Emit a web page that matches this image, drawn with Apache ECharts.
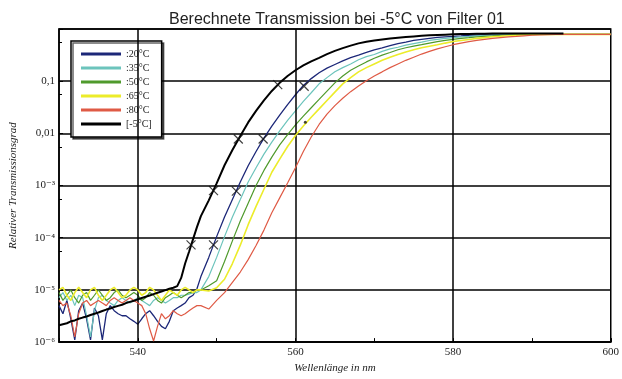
<!DOCTYPE html>
<html>
<head>
<meta charset="utf-8">
<script src="https://cdn.jsdelivr.net/npm/echarts@6/dist/echarts.min.js"></script>
<style>
  html, body { margin: 0; padding: 0; background: #fff; }
  #chart { width: 622px; height: 379px; }
</style>
</head>
<body>
<div id="chart"></div>
<script>
// wavelength grid in nm (0.5 nm steps in the noisy floor, 1 nm after)
const wavelengths = [
  530, 530.5, 531, 531.5, 532, 532.5, 533, 533.5, 534, 534.5, 535, 535.5, 536, 536.5,
  537, 537.5, 538, 538.5, 539, 539.5, 540, 540.5, 541, 541.5, 542, 542.5, 543, 543.5,
  544, 544.5, 545, 545.5, 546, 546.5, 547, 547.5, 548,
  549, 550, 551, 552, 553, 554, 555, 556, 557, 558, 559, 560, 561, 562, 563, 564, 565,
  566, 567, 568, 569, 570, 571, 572, 573, 574, 575, 576, 577, 578, 579, 580, 581, 582,
  583, 584, 585, 586, 587, 588, 589, 590, 591, 592, 593, 594, 595, 596, 597, 598, 599, 600
];

const t20 = [
  5.0e-6, 3.5e-6, 6.3e-6, 2.8e-6, 1.1e-6, 4.0e-6, 5.6e-6, 2.8e-6, 1.1e-6, 4.5e-6, 3.2e-6, 1.1e-6,
  3.5e-6, 5.0e-6, 4.0e-6, 3.5e-6, 3.2e-6, 3.2e-6, 2.8e-6, 2.5e-6, 2.2e-6, 2.8e-6, 3.5e-6, 4.0e-6,
  3.2e-6, 2.5e-6, 2.0e-6, 1.8e-6, 2.5e-6, 4.0e-6, 4.5e-6, 5.0e-6, 5.6e-6, 7.1e-6, 7.9e-6, 1.05e-5, 1.8e-5,
  4.2e-5, 1.05e-4, 2.5e-4, 5.4e-4, 1.17e-3, 2.4e-3, 4.5e-3, 8.1e-3, 0.0138, 0.0224, 0.0355, 0.055,
  0.083, 0.112, 0.145, 0.178, 0.209, 0.245, 0.282, 0.316, 0.355, 0.4, 0.437, 0.48, 0.525, 0.562,
  0.603, 0.631, 0.661, 0.692, 0.708, 0.724, 0.741, 0.759, 0.767, 0.776, 0.785,
  0.79, 0.79, 0.79, 0.79, 0.79, 0.79, 0.79, 0.79, 0.79, 0.79, 0.79, 0.79, 0.79, 0.79, 0.79
];

const t35 = [
  7.1e-6, 8.9e-6, 6.3e-6, 7.9e-6, 5.0e-6, 7.9e-6, 7.1e-6, 3.2e-6, 1.26e-6, 4.0e-6, 7.1e-6, 7.9e-6,
  6.3e-6, 5.6e-6, 5.0e-6, 6.3e-6, 7.1e-6, 6.3e-6, 5.6e-6, 6.3e-6, 7.1e-6, 6.3e-6, 5.6e-6, 5.0e-6,
  6.3e-6, 7.1e-6, 6.3e-6, 5.6e-6, 6.3e-6, 7.1e-6, 7.1e-6, 7.9e-6, 7.9e-6, 8.3e-6, 8.9e-6, 8.9e-6, 1.0e-5,
  1.8e-5, 4.2e-5, 1.05e-4, 2.5e-4, 5.4e-4, 1.17e-3, 2.2e-3, 4.0e-3, 6.8e-3, 0.0112, 0.0178, 0.0269,
  0.041, 0.06, 0.089, 0.117, 0.151, 0.182, 0.214, 0.257, 0.295, 0.324, 0.372, 0.417, 0.447, 0.49,
  0.525, 0.562, 0.603, 0.631, 0.661, 0.684, 0.708, 0.724, 0.741, 0.759, 0.767, 0.776, 0.785,
  0.79, 0.79, 0.79, 0.79, 0.79, 0.79, 0.79, 0.79, 0.79, 0.79, 0.79, 0.79, 0.79
];

const t50 = [
  8.9e-6, 6.3e-6, 7.9e-6, 1.0e-5, 7.1e-6, 5.6e-6, 7.9e-6, 8.9e-6, 6.3e-6, 7.9e-6, 1.0e-5, 7.9e-6,
  6.3e-6, 7.1e-6, 8.9e-6, 1.0e-5, 7.9e-6, 7.1e-6, 7.9e-6, 8.9e-6, 7.9e-6, 6.3e-6, 7.1e-6, 8.9e-6,
  7.9e-6, 6.3e-6, 5.6e-6, 7.1e-6, 7.9e-6, 8.9e-6, 7.9e-6, 7.1e-6, 7.9e-6, 8.9e-6, 8.9e-6, 1.0e-5, 1.0e-5,
  1.2e-5, 1.5e-5, 3.5e-5, 8.7e-5, 2.1e-4, 4.6e-4, 1.0e-3, 1.95e-3, 3.5e-3, 6.0e-3, 9.5e-3, 0.0145,
  0.0214, 0.031, 0.0447, 0.0646, 0.093, 0.126, 0.162, 0.195, 0.234, 0.275, 0.316, 0.355, 0.4, 0.437,
  0.468, 0.5, 0.537, 0.575, 0.603, 0.631, 0.661, 0.684, 0.708, 0.724, 0.741, 0.759, 0.767, 0.776, 0.785,
  0.79, 0.79, 0.79, 0.79, 0.79, 0.79, 0.79, 0.79, 0.79, 0.79, 0.79
];

const t65 = [
  1.0e-5, 1.12e-5, 7.9e-6, 6.3e-6, 8.9e-6, 1.12e-5, 8.9e-6, 7.1e-6, 1.0e-5, 1.12e-5, 7.9e-6, 6.3e-6,
  7.9e-6, 1.0e-5, 1.12e-5, 8.9e-6, 7.1e-6, 7.9e-6, 1.0e-5, 1.12e-5, 1.0e-5, 7.9e-6, 8.9e-6, 1.12e-5,
  1.0e-5, 7.9e-6, 6.3e-6, 7.9e-6, 1.0e-5, 8.9e-6, 7.9e-6, 1.0e-5, 1.12e-5, 1.0e-5, 8.9e-6, 1.0e-5, 1.0e-5,
  9.5e-6, 1.1e-5, 1.6e-5, 3.2e-5, 7.2e-5, 1.78e-4, 4.0e-4, 8.5e-4, 1.8e-3, 3.2e-3, 5.6e-3, 9.1e-3,
  0.0138, 0.0204, 0.0295, 0.0427, 0.0617, 0.089, 0.117, 0.151, 0.182, 0.214, 0.251, 0.288, 0.324,
  0.363, 0.4, 0.437, 0.468, 0.5, 0.537, 0.575, 0.603, 0.631, 0.661, 0.684, 0.708, 0.724, 0.741, 0.759,
  0.767, 0.776, 0.785, 0.79, 0.79, 0.79, 0.79, 0.79, 0.79, 0.79, 0.79, 0.79
];

const t80 = [
  6.3e-6, 5.0e-6, 5.6e-6, 3.2e-6, 1.26e-6, 3.5e-6, 5.6e-6, 6.3e-6, 5.0e-6, 5.6e-6, 6.3e-6, 5.6e-6,
  5.0e-6, 6.3e-6, 7.1e-6, 6.3e-6, 5.6e-6, 6.3e-6, 7.1e-6, 6.3e-6, 5.6e-6, 5.0e-6, 3.5e-6, 1.8e-6,
  1.05e-6, 2.0e-6, 3.5e-6, 2.8e-6, 3.2e-6, 4.0e-6, 3.5e-6, 3.2e-6, 3.5e-6, 4.0e-6, 4.5e-6, 5.0e-6, 5.0e-6,
  4.3e-6, 6.3e-6, 8.9e-6, 1.4e-5, 2.2e-5, 3.8e-5, 7.1e-5, 1.4e-4, 3.0e-4, 5.8e-4, 1.12e-3, 2.2e-3,
  4.5e-3, 8.5e-3, 0.0148, 0.0234, 0.034, 0.047, 0.063, 0.081, 0.102, 0.126, 0.151, 0.182, 0.214,
  0.251, 0.288, 0.331, 0.372, 0.417, 0.457, 0.5, 0.537, 0.575, 0.603, 0.631, 0.661, 0.684, 0.708,
  0.724, 0.741, 0.759, 0.767, 0.776, 0.785, 0.79, 0.79, 0.79, 0.79, 0.79, 0.79, 0.79
];

const tMinus5 = [
  2.1e-6, 2.2e-6, 2.3e-6, 2.5e-6, 2.6e-6, 2.8e-6, 2.95e-6, 3.1e-6, 3.3e-6, 3.5e-6, 3.7e-6, 3.95e-6,
  4.2e-6, 4.4e-6, 4.7e-6, 4.95e-6, 5.2e-6, 5.6e-6, 5.9e-6, 6.2e-6, 6.6e-6, 7.0e-6, 7.4e-6, 7.8e-6,
  8.3e-6, 8.8e-6, 9.3e-6, 9.9e-6, 1.05e-5, 1.1e-5, 1.18e-5, 1.7e-5, 3.2e-5, 5.4e-5, 9.3e-5, 1.6e-4, 2.6e-4,
  5.2e-4, 1.1e-3, 2.45e-3, 4.8e-3, 8.9e-3, 0.0162, 0.027, 0.043, 0.065, 0.093, 0.126, 0.162, 0.2,
  0.24, 0.28, 0.33, 0.38, 0.43, 0.48, 0.53, 0.57, 0.6, 0.63, 0.66, 0.68, 0.7, 0.72, 0.74, 0.76, 0.77,
  0.78, 0.79, 0.8, 0.8, 0.81, 0.81, 0.82, 0.82, 0.82, 0.82, 0.82, 0.82, 0.82, 0.82, 0.82, 0.82,
  null, null, null, null, null, null
];

// X marks on the -5°C and 20°C curves, plus the small dot
const marksMinus5X = [546.75, 549.6, 552.75, 557.75];
const marksMinus5Y = [7.3e-5, 8.0e-4, 7.8e-3, 0.086];
const marks20X = [549.6, 552.5, 555.9, 561.1];
const marks20Y = [7.3e-5, 7.8e-4, 7.8e-3, 0.08];
const dotX = [561.25];
const dotY = [0.0164];

const seriesNames = [':20°C', ':35°C', ':50°C', ':65°C', ':80°C', '[-5°C]'];
const seriesColors = ['#1c2778', '#6cc4bc', '#4f9a2c', '#ecec2a', '#df5a45', '#000000'];
const seriesWidths = [1.3, 1.2, 1.2, 1.6, 1.2, 2];
const seriesValues = [t20, t35, t50, t65, t80, tMinus5];

const xLabelValues = [540, 560, 580, 600];
const xGridLines = [540, 560, 580];
const yTickValues = [1e-6, 1e-5, 1e-4, 1e-3, 0.01, 0.1];
const yTickLabels = ['10⁻⁶', '10⁻⁵', '10⁻⁴', '10⁻³', '0,01', '0,1'];

const SERIF = '"Liberation Serif", "DejaVu Serif", serif';
const X_SYMBOL = 'path://M0,0L10,10M10,0L0,10';

const pairs = (xs, ys) => xs.map((x, i) => [x, ys[i]]);

const chart = echarts.init(document.getElementById('chart'));

const option = {
  backgroundColor: '#fff',
  animation: false,
  title: {
    text: 'Berechnete Transmission bei -5°C von Filter 01',
    left: 164,
    top: 7,
    textStyle: {
      fontFamily: '"Liberation Sans", Arial, sans-serif',
      fontSize: 16,
      fontWeight: 'normal',
      color: '#222',
    },
  },
  grid: {
    left: 56, right: 7, top: 29, bottom: 34,
    show: true,
    borderColor: '#000',
    borderWidth: 1.5,
    backgroundColor: '#fff',
  },
  legend: {
    data: seriesNames,
    orient: 'vertical',
    left: 71,
    top: 41,
    icon: 'rect',
    itemWidth: 40,
    itemHeight: 3,
    itemGap: 2,
    padding: [7, 10, 7, 10],
    backgroundColor: '#fff',
    borderColor: '#000',
    borderWidth: 1.5,
    shadowColor: 'rgba(0,0,0,0.6)',
    shadowOffsetX: 2,
    shadowOffsetY: 2,
    textStyle: { fontFamily: SERIF, fontSize: 10, lineHeight: 12, color: '#222' },
  },
  xAxis: {
    type: 'value',
    min: 530,
    max: 600,
    interval: 10,
    name: 'Wellenlänge in nm',
    nameLocation: 'middle',
    nameGap: 20,
    nameTextStyle: { fontFamily: SERIF, fontStyle: 'italic', fontSize: 11, color: '#222' },
    axisLine: { lineStyle: { color: '#000', width: 1.5 } },
    axisTick: { inside: true, length: 4, lineStyle: { color: '#000' } },
    axisLabel: {
      margin: 5,
      fontFamily: SERIF,
      fontSize: 11,
      color: '#222',
      formatter: (v) => (xLabelValues.includes(v) ? String(v) : ''),
    },
    splitLine: { show: false },
  },
  yAxis: {
    type: 'log',
    logBase: 10,
    min: 1e-6,
    max: 1,
    name: 'Relativer Transmissionsgrad',
    nameLocation: 'middle',
    nameGap: 40,
    nameTextStyle: { fontFamily: SERIF, fontStyle: 'italic', fontSize: 11, color: '#222' },
    axisLine: { lineStyle: { color: '#000', width: 1.5 } },
    axisTick: { inside: true, length: 4, lineStyle: { color: '#000' } },
    minorTick: { show: true, splitNumber: 2, length: 3, lineStyle: { color: '#000' } },
    axisLabel: {
      margin: 4,
      fontFamily: SERIF,
      fontSize: 11,
      color: '#222',
      formatter: (v) => {
        const i = yTickValues.findIndex((t) => Math.abs(Math.log10(t) - Math.log10(v)) < 0.01);
        return i < 0 ? '' : yTickLabels[i];
      },
    },
    splitLine: { lineStyle: { color: '#000', width: 1.5 } },
  },
  series: [
    {
      name: 'grid',
      type: 'line',
      data: [],
      silent: true,
      z: 1,
      markLine: {
        silent: true,
        symbol: 'none',
        label: { show: false },
        lineStyle: { color: '#000', width: 1.5, type: 'solid' },
        data: xGridLines.map((x) => ({ xAxis: x })),
      },
    },
    ...seriesNames.map((name, k) => ({
      name,
      type: 'line',
      z: 2 + k,
      color: seriesColors[k],
      showSymbol: false,
      symbol: 'none',
      lineStyle: { color: seriesColors[k], width: seriesWidths[k] },
      data: pairs(wavelengths, seriesValues[k]),
    })),
    {
      name: 'marks -5',
      type: 'scatter',
      z: 10,
      symbol: X_SYMBOL,
      symbolSize: 9,
      itemStyle: { color: 'none', borderColor: '#111', borderWidth: 1.2 },
      data: pairs(marksMinus5X, marksMinus5Y),
    },
    {
      name: 'marks 20',
      type: 'scatter',
      z: 10,
      symbol: X_SYMBOL,
      symbolSize: 9,
      itemStyle: { color: 'none', borderColor: '#111', borderWidth: 1.2 },
      data: pairs(marks20X, marks20Y),
    },
    {
      name: 'dot',
      type: 'scatter',
      z: 10,
      symbol: 'circle',
      symbolSize: 3,
      itemStyle: { color: '#111' },
      data: pairs(dotX, dotY),
    },
  ],
};

chart.setOption(option);

window.addEventListener('resize', () => chart.resize());
</script>
</body>
</html>
